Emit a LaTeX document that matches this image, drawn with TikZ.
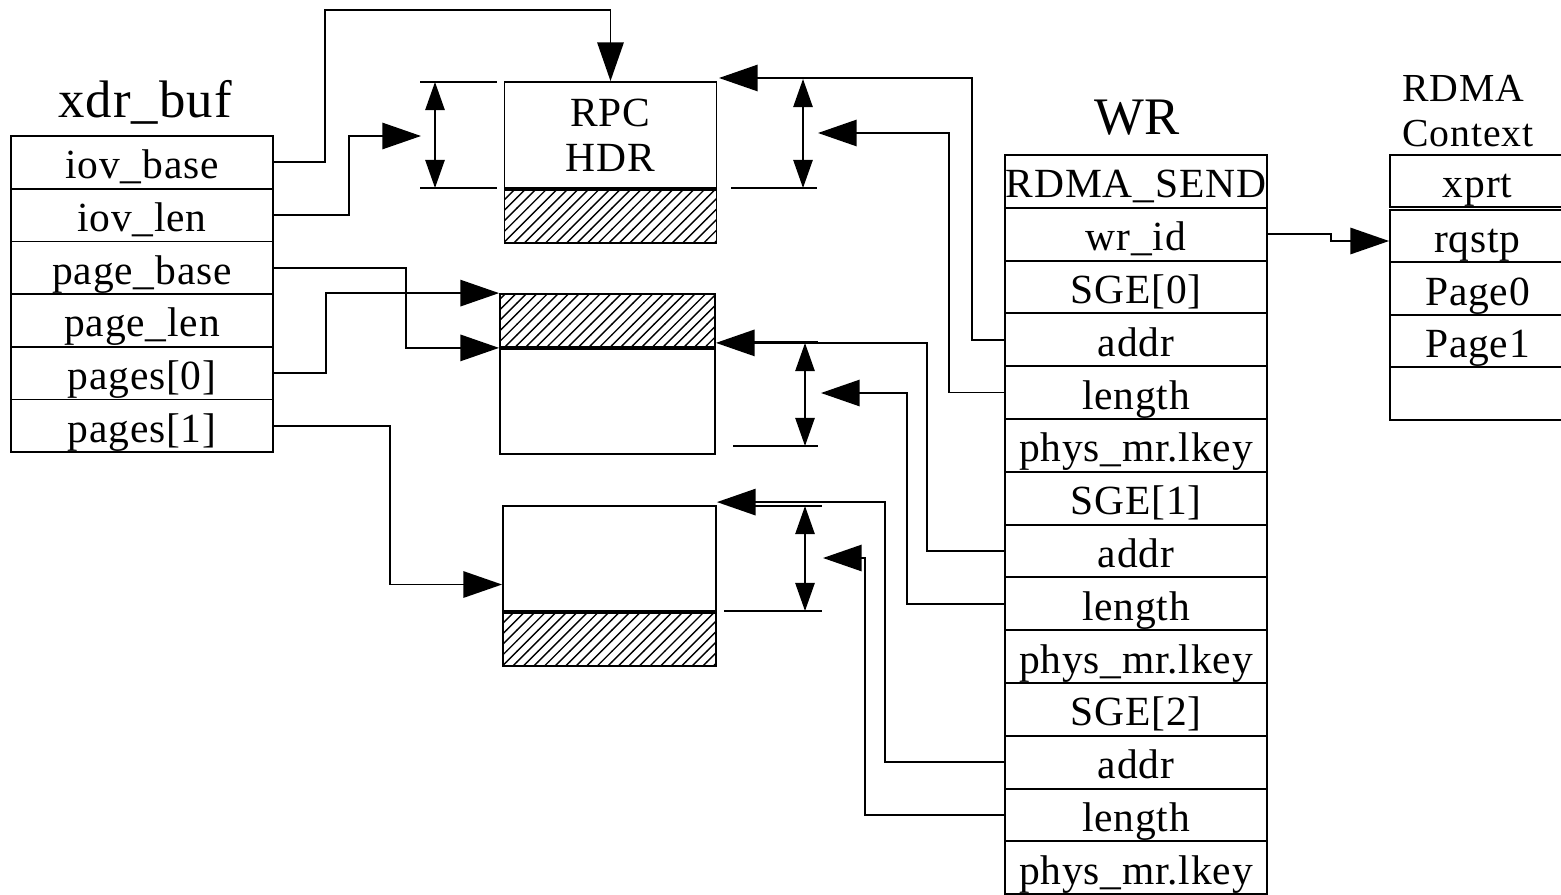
\documentclass[tikz,border=0pt]{standalone}
\usepackage{fontspec}
\setmainfont{Liberation Serif}[LetterSpace=2]
\usetikzlibrary{arrows.meta,patterns,calc}

\begin{document}
\begin{tikzpicture}[x=0.01cm,y=-0.01cm,line width=0.5pt,
  cell/.style={draw,minimum width=2.62cm,minimum height=0.527cm,inner sep=0pt,
    text height=11pt,text depth=1.6pt,font=\fontsize{11.8}{13}\selectfont},
  ctx/.style={cell,minimum width=1.75cm},
  title/.style={font=\fontsize{15}{17}\selectfont},
  buf/.style={draw,inner sep=0pt,minimum width=2.12cm},
  pad/.style={buf,pattern=north east lines,minimum height=0.53cm},
  ptr/.style={-{Triangle[length=11pt,width=7.5pt]}},
  dim/.style={{Triangle[length=8pt,width=5.5pt]}-{Triangle[length=8pt,width=5.5pt]}}]
\useasboundingbox (0,0) rectangle (1561,894);

% the three tables
\node[title,anchor=base] (buft) at (145,118) {xdr\_buf};
\foreach \t [count=\i] in {iov\_base,iov\_len,page\_base,page\_len,pages[0],pages[1]}
  \node[cell] (x\i) at (142,{162.35+52.7*(\i-1)}) {\t};

\node[title,anchor=base] (wrt) at (1137,135) {WR};
\foreach \t [count=\i] in {RDMA\_SEND,wr\_id,SGE[0],addr,length,phys\_mr.lkey,SGE[1],addr,length,phys\_mr.lkey,SGE[2],addr,length,phys\_mr.lkey}
  \node[cell] (w\i) at (1136,{181.4+52.8*(\i-1)}) {\t};

\node[anchor=west,align=left,font=\fontsize{11.3}{13}\selectfont] (ctxt) at (1390,111) {RDMA\\Context};
\node[ctx] (c1) at (1477.5,181) {xprt};
\foreach \t [count=\i from 2] in {rqstp,Page0,Page1,{}}
  \node[ctx] (c\i) at (1477.5,{236+52.5*(\i-2)}) {\t};

% buffers
\node[buf,minimum height=1.06cm,align=center,font=\fontsize{11.8}{12.8}\selectfont] (rpc) at (610.5,135) {RPC\\HDR};
\node[pad,anchor=north] (rpcpad) at (rpc.south) {};
\node[pad,minimum width=2.15cm] (p0pad) at (607.5,320.5) {};
\node[buf,minimum width=2.15cm,minimum height=1.05cm,anchor=north] (p0) at (p0pad.south) {};
\node[buf,minimum width=2.13cm,minimum height=1.05cm] (p1) at (609.5,558.5) {};
\node[pad,minimum width=2.13cm,anchor=north] (p1pad) at (p1.south) {};

% length marks
\draw (420,82) -- (497,82) (420,188) -- (497,188);
\draw[dim] (435,82) -- (435,188);
\draw (750,78) -- (817,78) (731,188) -- (817,188);
\draw[dim] (803,79) -- (803,188);
\draw (750,342) -- (818,342) (733,446) -- (818,446);
\draw[dim] (805,343) -- (805,446);
\draw (750,506) -- (822,506) (724,611) -- (822,611);
\draw[dim] (805,506) -- (805,611);

\coordinate (hdrlen) at (421,136);
\coordinate (hdrtop) at (719,78);
\coordinate (hdrend) at (818,133);
\coordinate (p0end) at (821,393);
\coordinate (p1end) at (823,558);

% xdr_buf pointers
\draw[ptr] (x1.east) -| (325,10) -| (rpc.north);
\draw[ptr] (x2.east) -- ++(75,0) |- (hdrlen);
\draw[ptr] (x3.east) -- ++(132,0) |- (p0pad.south west);
\draw[ptr] (x5.east) -- ++(52,0) |- (p0pad.north west);
\draw[ptr] (x6.east) -- ++(116,0) |- ([yshift=-0.26cm]p1.west);

% sge pointers
\draw[ptr] (w4.west) -- ++(-32,0) |- (hdrtop);
\draw[ptr] (w5.west) -- ++(-55,0) |- (hdrend);
\draw[ptr] (w8.west) -- ++(-77,0) |- ([yshift=0.05cm]p0.north east);
\draw[ptr] (w9.west) -- ++(-97,0) |- (p0end);
\draw[ptr] (w12.west) -- ++(-119,0) |- ([yshift=0.03cm]p1.north east);
\draw[ptr] (w13.west) -- ++(-139,0) |- (p1end);

\draw[ptr] (w2.east) -- ++(63,0) |- ([yshift=-0.05cm]c2.west);
\end{tikzpicture}
\end{document}
